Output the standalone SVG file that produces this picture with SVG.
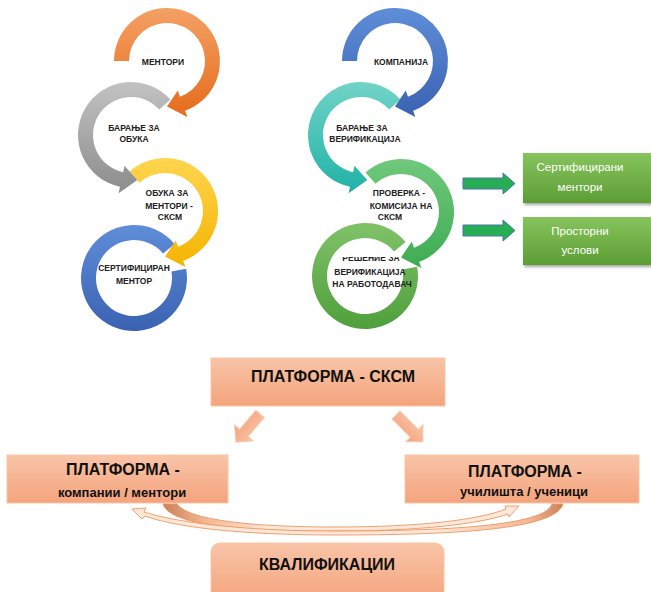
<svg xmlns="http://www.w3.org/2000/svg" width="651" height="592" viewBox="0 0 651 592">
<defs>
<linearGradient id="gOrange" x1="0" y1="0" x2="0" y2="1"><stop offset="0" stop-color="#f4a064"/><stop offset="1" stop-color="#e56c1c"/></linearGradient>
<linearGradient id="gGray" x1="0" y1="0" x2="0" y2="1"><stop offset="0" stop-color="#c2c2c2"/><stop offset="1" stop-color="#8c8c8c"/></linearGradient>
<linearGradient id="gYellow" x1="0" y1="0" x2="0" y2="1"><stop offset="0" stop-color="#ffd54f"/><stop offset="1" stop-color="#f5b400"/></linearGradient>
<linearGradient id="gBlue" x1="0" y1="0" x2="0" y2="1"><stop offset="0" stop-color="#5f8dd8"/><stop offset="1" stop-color="#3a62b2"/></linearGradient>
<linearGradient id="gTeal" x1="0" y1="0" x2="0" y2="1"><stop offset="0" stop-color="#72d3c7"/><stop offset="1" stop-color="#1fb2a7"/></linearGradient>
<linearGradient id="gGreen1" x1="0" y1="0" x2="0" y2="1"><stop offset="0" stop-color="#70c87c"/><stop offset="1" stop-color="#3dac52"/></linearGradient>
<linearGradient id="gGreen2" x1="0" y1="0" x2="0" y2="1"><stop offset="0" stop-color="#80c268"/><stop offset="1" stop-color="#4f9f3c"/></linearGradient>
<linearGradient id="gBox" x1="0" y1="0" x2="0" y2="1"><stop offset="0" stop-color="#f8c4a7"/><stop offset="1" stop-color="#f4a47d"/></linearGradient>
<linearGradient id="gGreenBox" x1="0" y1="0" x2="0" y2="1"><stop offset="0" stop-color="#86c45c"/><stop offset="1" stop-color="#5d9d35"/></linearGradient>
<linearGradient id="gCurveA" x1="0" y1="0" x2="1" y2="0"><stop offset="0" stop-color="#c9825a"/><stop offset="0.12" stop-color="#f3b893"/><stop offset="0.3" stop-color="#fde8da"/><stop offset="1" stop-color="#fde8da"/></linearGradient>
<linearGradient id="gCurveB" x1="1" y1="0" x2="0" y2="0"><stop offset="0" stop-color="#c9825a"/><stop offset="0.08" stop-color="#f3b893"/><stop offset="0.3" stop-color="#fde8da"/><stop offset="1" stop-color="#fde8da"/></linearGradient>
<filter id="shadow" x="-10%" y="-10%" width="130%" height="140%"><feDropShadow dx="1" dy="2" stdDeviation="1.5" flood-color="#000" flood-opacity="0.35"/></filter>
<clipPath id="clipR"><rect x="300" y="257" width="150" height="20"/></clipPath>
</defs>
<style>
.lbl{font-family:"Liberation Sans",Arial,sans-serif;font-weight:bold;font-size:8.5px;fill:#222;text-anchor:middle}
.big{font-family:"Liberation Sans",Arial,sans-serif;font-weight:bold;font-size:16px;fill:#111;text-anchor:middle}
.sub{font-family:"Liberation Sans",Arial,sans-serif;font-weight:bold;font-size:13px;fill:#111;text-anchor:middle}
.wt{font-family:"Liberation Sans",Arial,sans-serif;font-size:11.5px;fill:#fff;text-anchor:middle}
.box{fill:url(#gBox);stroke:#f7c6a8;stroke-width:1}
.gbox{fill:url(#gGreenBox);filter:url(#shadow)}
.garrow{fill:#27ae55;stroke:#4a74a8;stroke-width:1}
.parrow{fill:url(#gBox);stroke:#f7c6a8;stroke-width:1}
.curve{stroke:#ee9660;stroke-width:0.9}
</style>

<!-- left column rings (drawn bottom-up so earlier arrows overlap later rings) -->
<g id="ring-sertificiran">
<path d="M 174.60 243.93 A 53 53 0 1 0 186.19 268.80 L 171.42 271.40 A 38 38 0 1 1 163.11 253.57 Z" fill="url(#gBlue)"/>
</g>
<g id="ring-obuka-mentori">
<path d="M 129.54 171.62 A 53 53 0 1 1 183.13 260.80 L 185.35 266.91 L 165 256.5 L 175.77 240.60 L 178.00 246.71 A 38 38 0 1 0 139.57 182.76 Z" fill="url(#gYellow)"/>
</g>
<g id="ring-baranje-obuka">
<path d="M 170.38 99.54 A 53 53 0 1 0 119.98 186.84 L 118.63 193.20 L 137.33 180.06 L 124.45 165.81 L 123.10 172.17 A 38 38 0 1 1 159.24 109.57 Z" fill="url(#gGray)"/>
</g>
<g id="ring-mentori">
<path d="M 114 61 A 53 53 0 1 1 185.13 110.80 L 187.35 116.91 L 167 106.5 L 177.77 90.60 L 180.00 96.71 A 38 38 0 1 0 129 61 Z" fill="url(#gOrange)"/>
</g>

<!-- right column rings -->
<g id="ring-reshenie">
<path d="M 405.60 241.93 A 53 53 0 1 0 417.19 266.80 L 402.42 269.40 A 38 38 0 1 1 394.11 251.57 Z" fill="url(#gGreen2)"/>
</g>
<g id="ring-proverka">
<path d="M 365.54 172.62 A 53 53 0 1 1 419.13 261.80 L 421.35 267.91 L 401 257.5 L 411.77 241.60 L 414.00 247.71 A 38 38 0 1 0 375.57 183.76 Z" fill="url(#gGreen1)"/>
</g>
<g id="ring-baranje-verifikacija">
<path d="M 400.38 99.54 A 53 53 0 1 0 349.98 186.84 L 348.63 193.20 L 367.33 180.06 L 354.45 165.81 L 353.10 172.17 A 38 38 0 1 1 389.24 109.57 Z" fill="url(#gTeal)"/>
</g>
<g id="ring-kompanija">
<path d="M 342 61 A 53 53 0 1 1 413.13 110.80 L 415.35 116.91 L 395 106.5 L 405.77 90.60 L 408.00 96.71 A 38 38 0 1 0 357 61 Z" fill="url(#gBlue)"/>
</g>

<!-- ring labels -->
<g id="labels">
<text class="lbl" x="163" y="65">МЕНТОРИ</text>
<text class="lbl" x="134" y="131">БАРАЊЕ ЗА</text>
<text class="lbl" x="134" y="142">ОБУКА</text>
<text class="lbl" x="167" y="196">ОБУКА ЗА</text>
<text class="lbl" x="169" y="209">МЕНТОРИ -</text>
<text class="lbl" x="170" y="220">СКСМ</text>
<text class="lbl" x="134" y="271">СЕРТИФИЦИРАН</text>
<text class="lbl" x="134" y="284">МЕНТОР</text>
<text class="lbl" x="401" y="65">КОМПАНИЈА</text>
<text class="lbl" x="362" y="131">БАРАЊЕ ЗА</text>
<text class="lbl" x="365" y="142">ВЕРИФИКАЦИЈА</text>
<text class="lbl" x="399" y="196">ПРОВЕРКА -</text>
<text class="lbl" x="401" y="209">КОМИСИЈА НА</text>
<text class="lbl" x="390" y="220">СКСМ</text>
<text class="lbl" x="371" y="261" clip-path="url(#clipR)">РЕШЕНИЕ ЗА</text>
<text class="lbl" x="370" y="275">ВЕРИФИКАЦИЈА</text>
<text class="lbl" x="372" y="287">НА РАБОТОДАВАЧ</text>
</g>

<!-- green boxes -->
<g id="box-sertificirani">
<rect class="gbox" x="523" y="153" width="132" height="50"/>
<text class="wt" x="580" y="171">Сертифицирани</text>
<text class="wt" x="580" y="191">ментори</text>
</g>
<g id="box-prostorni">
<rect class="gbox" x="523" y="217" width="132" height="48"/>
<text class="wt" x="580" y="235">Просторни</text>
<text class="wt" x="580" y="254">услови</text>
</g>

<!-- platform boxes -->
<g id="box-platforma-sksm">
<rect class="box" x="211" y="358" width="234" height="48"/>
<text class="big" x="333" y="382">ПЛАТФОРМА - СКСМ</text>
</g>
<g id="box-platforma-kompanii">
<rect class="box" x="7" y="455" width="221" height="48"/>
<text class="big" x="123" y="475">ПЛАТФОРМА -</text>
<text class="sub" x="122" y="497">компании / ментори</text>
</g>
<g id="box-platforma-ucilista">
<rect class="box" x="405" y="455" width="234" height="48"/>
<text class="big" x="525" y="477">ПЛАТФОРМА  -</text>
<text class="sub" x="524" y="496">училишта / ученици</text>
</g>
<g id="box-kvalifikacii">
<rect class="box" x="211" y="543" width="233" height="60" rx="9"/>
<text class="big" x="327" y="570">КВАЛИФИКАЦИИ</text>
</g>

<!-- connectors -->
<g id="connectors">
<path class="garrow" d="M 463 178 L 503 178 L 503 173 L 515 183.5 L 503 194 L 503 189 L 463 189 Z"/>
<path class="garrow" d="M 463 225 L 503 225 L 503 220 L 515 230.5 L 503 241 L 503 236 L 463 236 Z"/>
<path class="parrow" transform="translate(260,414) rotate(130.5)" d="M0,-5.5 L25,-5.5 L25,-12 L37,0 L25,12 L25,5.5 L0,5.5 Z"/>
<path class="parrow" transform="translate(396,415) rotate(45)" d="M0,-5.5 L26,-5.5 L26,-12 L38,0 L26,12 L26,5.5 L0,5.5 Z"/>
<path class="curve" fill="url(#gCurveA)" d="M 163 504 C 170 528 260 531 335 531 C 420 531 480 524 508 514 L 509 517 L 519 506 L 505 506 L 506 509 C 478 520 420 527 335 527 C 265 527 190 522 177 504 Z"/>
<path class="curve" fill="url(#gCurveB)" d="M 563 504 C 556 530 450 535 335 535 C 240 535 175 527 145 516 L 142 519 L 132 509 L 146 508 L 144 512 C 175 522 240 531 335 531 C 445 531 545 526 552 504 Z"/>
</g>
</svg>
